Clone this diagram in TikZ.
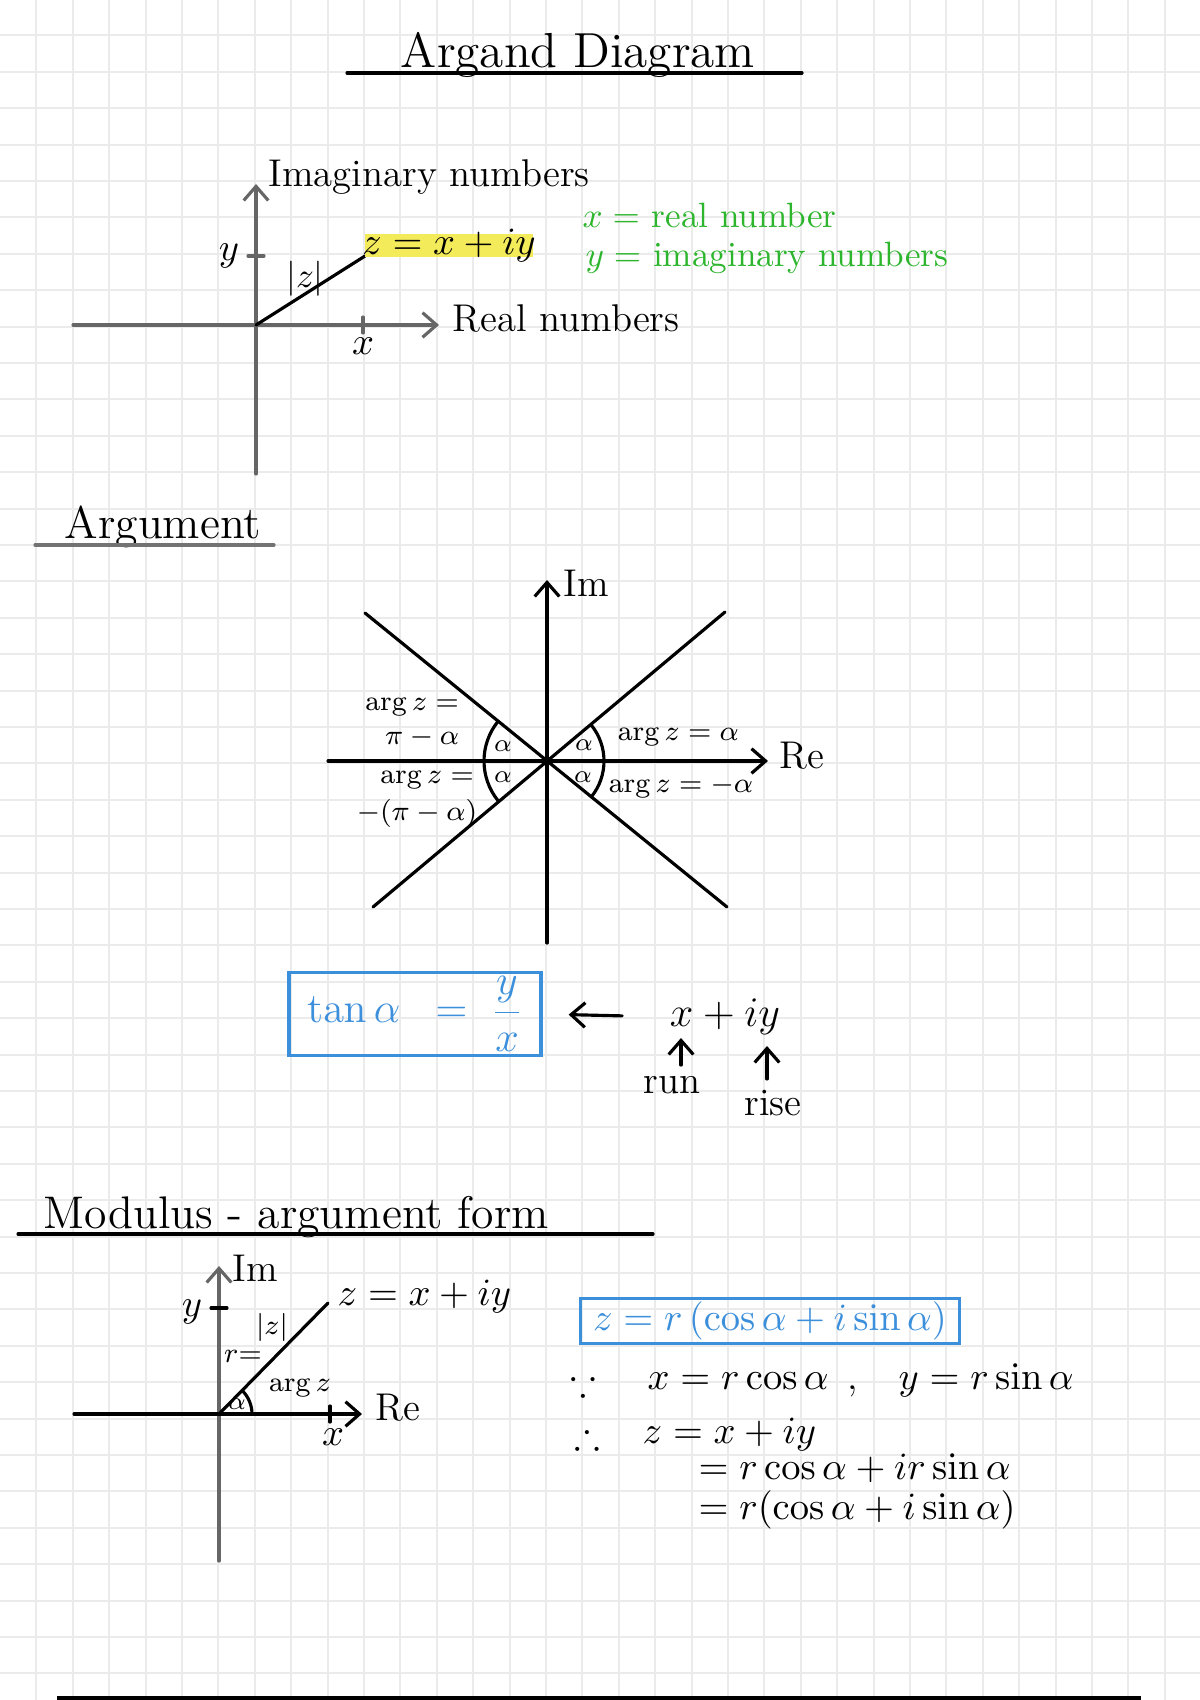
\documentclass[tikz,border=0pt]{standalone}
\usepackage{amssymb}
\usepackage{amsmath}
\usepackage{xcolor}
\usepackage{tikz}
\usetikzlibrary{arrows.meta}

\definecolor{penBlue}{HTML}{3B8FDB}
\definecolor{penGreen}{HTML}{2DB52D}
\definecolor{hilite}{HTML}{F4EB5A}

\begin{document}
\begin{tikzpicture}[x=0.01cm, y=-0.01cm,
    pen/.style={line width=0.9pt, line cap=round},
    axis/.style={pen, -{Straight Barb[length=4pt,width=7pt]}},
    gridline/.style={line width=0.6pt, black!8},
    txt/.style={font=\fontsize{11}{13}\selectfont, inner sep=0pt},
    small/.style={font=\fontsize{8}{10}\selectfont, inner sep=0pt},
    head/.style={font=\fontsize{13}{15}\selectfont, anchor=base west, inner sep=0pt},
    bluebox/.style={draw=penBlue, line width=0.9pt, text=penBlue, inner sep=1pt}]

    \fill[white] (0,0) rectangle (1200,1700);
    \useasboundingbox (0,0) rectangle (1200,1700);
    \foreach \i in {1,...,32}{
        \draw[gridline] (36.4*\i,0) -- (36.4*\i,1700);
    }
    \foreach \j in {1,...,46}{
        \draw[gridline] (0,36.4*\j-1) -- (1200,36.4*\j-1);
    }

    \node[head, font=\fontsize{14}{16}\selectfont, anchor=base] (title) at (578,68) {Argand Diagram};
    \draw[pen] (347,73) -- (802,73);

    \coordinate (o1) at (256,325);
    \coordinate (imtop) at (256,184);
    \coordinate (imbot) at (256,474);
    \coordinate (releft) at (73,325);
    \coordinate (reright) at (439,325);
    \coordinate (z1) at (365,256);
    \draw[axis, black!60] (imbot) -- (imtop);
    \draw[axis, black!60] (releft) -- (reright);
    \draw[pen] (o1) -- (z1);
    \draw[pen, black!60] (248,256) -- (264,256);
    \draw[pen, black!60] (363,317) -- (363,333);
    \fill[hilite] (365,234) rectangle (533,257);
    \node[txt, anchor=base west] (imlabel) at (268,186) {Imaginary numbers};
    \node[txt] (ylab1) at (229,256) {$y$};
    \node[txt] (xlab1) at (363,346) {$x$};
    \node[txt, font=\fontsize{10}{12}\selectfont] (mod1) at (305,279) {$|z|$};
    \node[txt] (zpt1) at (449,246) {$z = x + iy$};
    \node[txt, anchor=base west] (relabel) at (452,331) {Real numbers};
    \node[txt, font=\fontsize{10}{12}\selectfont, text=penGreen, anchor=base west] (xdef) at (582,228) {$x =$ real number};
    \node[txt, font=\fontsize{10}{12}\selectfont, text=penGreen, anchor=base west] (ydef) at (585,266) {$y =$ imaginary numbers};

    \node[head] (arghead) at (64,538) {Argument};
    \draw[pen, black!55] (35,545) -- (274,545);

    \coordinate (o2) at (547,761);
    \coordinate (imtop2) at (547,580);
    \coordinate (imbot2) at (547,943);
    \coordinate (releft2) at (328,761);
    \coordinate (reright2) at (768,761);
    \draw[axis] (imbot2) -- (imtop2);
    \draw[axis] (releft2) -- (reright2);
    \draw[pen] (365,613) -- (727,907);
    \draw[pen] (373,907) -- (725,612);
    \draw[pen] (o2) ++(-141:63) arc[start angle=-141, end angle=-219, radius=63];
    \draw[pen] (o2) ++(-39:57) arc[start angle=-39, end angle=39, radius=57];
    \node[txt, anchor=base west] (imlab2) at (563,596) {Im};
    \node[txt, anchor=base west] (relab2) at (779,768) {Re};
    \foreach \x/\y/\n in {503/746/al1, 503/777/al2, 584/745/al3, 583/777/al4}{
        \node[small, font=\fontsize{7.5}{9}\selectfont] (\n) at (\x,\y) {$\alpha$};
    }
    \node[small] (argA) at (412,707) {$\arg z =$};
    \node[small] (argAv) at (422,737) {$\pi - \alpha$};
    \node[small, anchor=west] (argB) at (617,737) {$\arg z = \alpha$};
    \node[small, anchor=west] (argC) at (608,787) {$\arg z = -\alpha$};
    \node[small] (argD) at (427,780) {$\arg z =$};
    \node[small] (argDv) at (417,813) {$-(\pi - \alpha)$};

    \node[bluebox, minimum width=2.52cm, minimum height=0.79cm, font=\fontsize{12}{14}\selectfont] (tanbox) at (415,1014) {$\tan\alpha \;\;=\; \dfrac{y}{x}$};
    \node[txt, font=\fontsize{12}{14}\selectfont] (xiy) at (725,1017) {$x + iy$};
    \draw[axis, shorten <=0.47cm, shorten >=0.26cm] (xiy.west) -- (tanbox.east);
    \node[txt] (run) at (672,1085) {run};
    \node[txt] (rise) at (773,1103) {rise};
    \coordinate (runtip) at (681,1038);
    \coordinate (risetip) at (767,1046);
    \draw[axis, shorten <=3pt] (runtip |- run.north) -- (runtip);
    \draw[axis, shorten <=3pt] (risetip |- rise.north) -- (risetip);

    \node[head] (modhead) at (43,1228) {Modulus - argument form};
    \draw[pen] (18,1234) -- (653,1234);

    \coordinate (o3) at (219,1414);
    \coordinate (imtop3) at (219,1266);
    \coordinate (imbot3) at (219,1561);
    \coordinate (releft3) at (74,1414);
    \coordinate (reright3) at (362,1414);
    \coordinate (z3) at (328,1303);
    \draw[axis, black!60] (imbot3) -- (imtop3);
    \draw[axis] (releft3) -- (reright3);
    \draw[pen] (o3) -- (z3);
    \draw[pen] (211,1308) -- (227,1308);
    \draw[pen] (330,1406) -- (330,1422);
    \draw[pen] (o3) ++(0:33) arc[start angle=0, end angle=-45, radius=33];
    \node[txt, anchor=base west] (imlab3) at (232,1281) {Im};
    \node[txt] (ylab3) at (192,1312) {$y$};
    \node[txt] (xlab3) at (333,1437) {$x$};
    \node[txt, anchor=base west] (relab3) at (375,1420) {Re};
    \node[txt, font=\fontsize{10.5}{12}\selectfont, anchor=west] (zpt3) at (337,1297) {$z = x + iy$};
    \node[small, font=\fontsize{8.5}{10}\selectfont] (mod3) at (272,1327) {$|z|$};
    \node[small] (rlab3) at (243,1356) {$r{=}$};
    \node[small, font=\fontsize{7}{8}\selectfont] (alpha3) at (237,1404) {$\alpha$};
    \node[small] (arg3) at (300,1388) {$\arg z$};

    \node[bluebox, minimum width=3.78cm, minimum height=0.45cm, font=\fontsize{11}{13}\selectfont] (zbox) at (770,1321) {$z = r\,(\cos\alpha + i\sin\alpha)$};
    \node[txt] (since) at (583,1382) {$\because$};
    \node[txt, anchor=base west] (xr) at (647,1389) {$x = r\cos\alpha$};
    \node[txt, anchor=base] (comma) at (853,1389) {,};
    \node[txt, anchor=base west] (yr) at (898,1389) {$y = r\sin\alpha$};
    \node[txt] (hence) at (587,1435) {$\therefore$};
    \node[txt, anchor=base west] (zl1) at (642,1443) {$z = x + iy$};
    \node[txt, font=\fontsize{10.5}{12}\selectfont, anchor=base west] (zl2) at (698,1479) {$= r\cos\alpha + ir\sin\alpha$};
    \node[txt, font=\fontsize{10.5}{12}\selectfont, anchor=base west] (zl3) at (698,1519) {$= r(\cos\alpha + i\sin\alpha)$};

    \draw[line width=1.2pt] (57,1698) -- (1141,1698);
\end{tikzpicture}
\end{document}
